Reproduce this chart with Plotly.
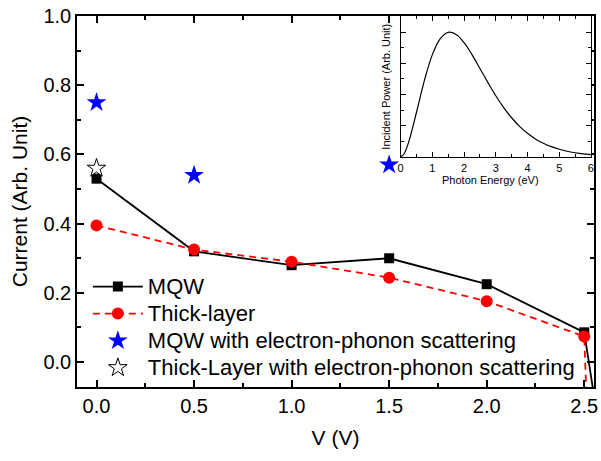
import plotly.graph_objects as go

# ---- data ----
v_mqw = [0.0, 0.5, 1.0, 1.5, 2.0, 2.5, 2.6]
i_mqw = [0.53, 0.32, 0.28, 0.30, 0.225, 0.086, -0.28]

v_thick = [0.0, 0.5, 1.0, 1.5, 2.0, 2.5, 2.55]
i_thick = [0.395, 0.325, 0.29, 0.244, 0.176, 0.074, -0.70]

v_mqw_ph = [0.0, 0.5, 1.5]
i_mqw_ph = [0.75, 0.54, 0.57]

v_thick_ph = [0.0]
i_thick_ph = [0.56]

# inset: incident power spectrum
e_photon = [0.0, 0.1, 0.25, 0.5, 0.75, 1.0, 1.25, 1.5, 1.75, 2.0, 2.25, 2.5, 2.75,
            3.0, 3.25, 3.5, 3.75, 4.0, 4.25, 4.5, 4.75, 5.0, 5.25, 5.5, 5.75, 6.0]
p_incident = [0.0, 0.02, 0.115, 0.357, 0.613, 0.82, 0.949, 0.999, 0.981, 0.916, 0.82,
              0.709, 0.597, 0.49, 0.395, 0.313, 0.244, 0.188, 0.143, 0.108, 0.081,
              0.06, 0.044, 0.032, 0.023, 0.017]

FONT = "Arial, Liberation Sans, sans-serif"


def big(name):
    return '<span style="font-size:22px">' + name + '</span>'


fig = go.Figure()

fig.add_trace(go.Scatter(
    x=v_mqw, y=i_mqw, mode="lines+markers", name=big("MQW"),
    line=dict(color="black", width=1.8),
    marker=dict(symbol="square", size=10, color="black"),
))
fig.add_trace(go.Scatter(
    x=v_thick, y=i_thick, mode="lines+markers", name=big("Thick-layer"),
    line=dict(color="#ff0000", width=1.8, dash="7px,5px"),
    marker=dict(symbol="circle", size=12, color="#ff0000"),
))
fig.add_trace(go.Scatter(
    x=v_mqw_ph, y=i_mqw_ph, mode="markers", name=big("MQW with electron-phonon scattering"),
    marker=dict(symbol="star", size=15, color="#0000ff", line=dict(width=0)),
))
fig.add_trace(go.Scatter(
    x=v_thick_ph, y=i_thick_ph, mode="markers",
    name=big("Thick-Layer with electron-phonon scattering"),
    marker=dict(symbol="star", size=14, color="white", line=dict(color="black", width=1)),
))

fig.add_trace(go.Scatter(
    x=e_photon, y=p_incident, mode="lines", xaxis="x2", yaxis="y2",
    line=dict(color="black", width=1.2, shape="spline"), showlegend=False,
))

axis_common = dict(
    showline=True, linecolor="black", linewidth=1.5, mirror="ticks",
    ticks="inside", tickcolor="black", tickwidth=1.5, ticklen=7,
    showgrid=False, zeroline=False, automargin=False,
)

fig.update_layout(
    width=601, height=461,
    margin=dict(l=77, r=7, t=16, b=74),
    paper_bgcolor="white", plot_bgcolor="white",
    font=dict(family=FONT, color="black", size=20),
    xaxis=dict(
        **axis_common, range=[-0.1, 2.55], dtick=0.5, tick0=0, tickformat=".1f",
        tickfont=dict(size=20),
        minor=dict(dtick=0.25, ticks="inside", ticklen=4, tickcolor="black", tickwidth=1.5),
        title=dict(text="V (V)", font=dict(size=21), standoff=15),
    ),
    yaxis=dict(
        **axis_common, range=[-0.072, 1.0], dtick=0.2, tick0=0, tickformat=".1f",
        tickfont=dict(size=20),
        minor=dict(dtick=0.1, ticks="inside", ticklen=4, tickcolor="black", tickwidth=1.5),
        title=dict(text="Current (Arb. Unit)", font=dict(size=21), standoff=10),
    ),
    xaxis2=dict(
        showline=True, linecolor="black", linewidth=1.2, mirror="ticks",
        ticks="inside", tickcolor="black", tickwidth=1, ticklen=5,
        showgrid=False, zeroline=False, automargin=False,
        domain=[0.626, 0.994], anchor="y2", range=[0, 6], dtick=1, tick0=0,
        tickfont=dict(size=11),
        minor=dict(dtick=0.5, ticks="inside", ticklen=3, tickcolor="black", tickwidth=1),
    ),
    yaxis2=dict(
        showline=True, linecolor="black", linewidth=1.2, mirror="ticks",
        ticks="inside", tickcolor="black", tickwidth=1, ticklen=5,
        showgrid=False, zeroline=False, automargin=False,
        domain=[0.619, 1.0], anchor="x2", range=[-0.005, 1.13], dtick=0.25, tick0=0,
        showticklabels=False,
        minor=dict(dtick=0.125, ticks="inside", ticklen=3, tickcolor="black", tickwidth=1),
        title=dict(text="Incident Power (Arb. Unit)", font=dict(size=11), standoff=6),
    ),
    legend=dict(
        x=0.021, y=0.0, xanchor="left", yanchor="bottom",
        bgcolor="rgba(0,0,0,0)", font=dict(size=18.5, family=FONT),
        itemwidth=50, tracegroupgap=0,
    ),
    showlegend=True,
    annotations=[dict(
        text="Photon Energy (eV)", xref="paper", yref="paper",
        x=0.80, y=0.557, xanchor="center", yanchor="middle",
        showarrow=False, font=dict(size=11, family=FONT, color="black"),
    )],
)

# remove the default 8px page margin so the figure fills the window exactly
fig.write_html("out.html", config={"displayModeBar": False},
               post_script="document.body.style.margin='0px';")
